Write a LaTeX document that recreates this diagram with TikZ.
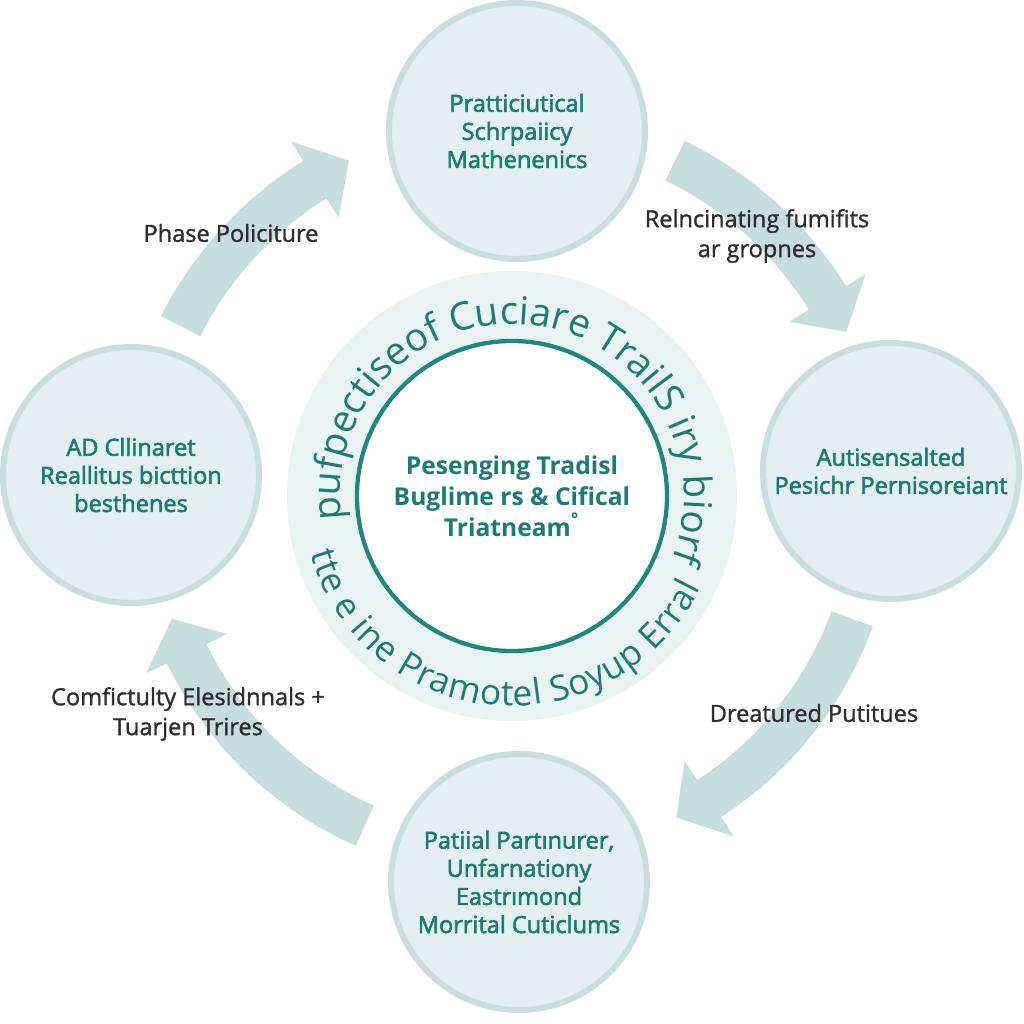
\documentclass[tikz,border=0pt]{standalone}
\usepackage{fontspec}
\setmainfont{Open Sans}
\newfontfamily\medfont{Open Sans}[FakeBold=2.5]
\newfontfamily\lblfont{Open Sans}[FakeBold=1.3]
\usetikzlibrary{positioning,decorations.text}

\definecolor{stagefill}{HTML}{E4F0EF}
\definecolor{stageedge}{HTML}{C9DFDD}
\definecolor{flowfill}{HTML}{C6DEDC}
\definecolor{ringfill}{HTML}{E8F3F2}
\definecolor{hubedge}{HTML}{1C8878}
\definecolor{tealtext}{HTML}{1D7C70}
\definecolor{labeltext}{HTML}{2E2E2E}

\begin{document}
\begin{tikzpicture}[
    stage/.style={circle,draw=stageedge,line width=1.7pt,fill=stagefill,minimum size=2.56cm,inner sep=0pt,
                  text=tealtext,align=center,font=\medfont\fontsize{6.7}{8}\selectfont},
    ringdisk/.style={circle,fill=ringfill,minimum size=4.5cm,inner sep=0pt},
    hub/.style={circle,draw=hubedge,line width=1.2pt,fill=white,minimum size=3.1cm,inner sep=0pt,
                text=tealtext,align=center,font=\bfseries\fontsize{7}{8.8}\selectfont},
    steplabel/.style={text=labeltext,align=center,font=\lblfont\fontsize{6.7}{8.5}\selectfont},
    flow/.style={fill=flowfill}]
  \useasboundingbox[fill=white] (0,0) rectangle (10.24,10.24);

  % curved block arrows round the middle
  \foreach \a/\b/\c/\r in {153/122/116/3.72, 64/32/26/3.72, -20/-57/-63/3.62, 246/206/200/3.62} {
    \pgfmathsetmacro\ro{\r+0.22}
    \pgfmathsetmacro\ri{\r-0.22}
    \pgfmathsetmacro\ho{\r+0.45}
    \pgfmathsetmacro\hi{\r-0.45}
    \fill[flow,shift={(5.12,5.29)}] (\a:\ro) arc[start angle=\a,end angle=\b,radius=\ro]
      -- (\b:\ho) -- (\c:\r) -- (\b:\hi) -- (\b:\ri)
      arc[start angle=\b,end angle=\a,radius=\ri] -- cycle;
  }

  \node[ringdisk] (ring) at (5.12,5.28) {};
  \node[hub] (hub) at (ring.center) {Pesenging Tradisl\\Buglime rs \& Cifical\\Triatneam\textsuperscript{°}};

  % lettering round the ring
  \path[decorate,decoration={text along path,text color=tealtext,text align={fit to path},
      text={|\fontsize{11}{11}\selectfont|pufpectiseof Cuciare TrailS iry biorf}}]
    (ring.center) ++(188:1.72) arc[start angle=188,end angle=-20,radius=1.72];
  \path[decorate,decoration={text along path,text color=tealtext,text align={fit to path},
      text={|\fontsize{10}{10}\selectfont|tte e ine Pramotel Soyup Erral}}]
    (ring.center) ++(196:2.10) arc[start angle=196,end angle=334,radius=2.10];

  \node[stage] (top) at (5.17,8.93) {Pratticiutical\\Schrpaiicy\\Mathenenics};
  \node[stage] (left) at (1.31,5.49) {AD Cllinaret\\Reallitus bicttion\\besthenes};
  \node[stage] (right) at (8.91,5.53) {Autisensalted\\Pesichr Pernisoreiant};
  \node[stage] (bottom) at (5.19,1.42) {Patiial Partınurer,\\Unfarnationy\\Eastrımond\\Morrital Cuticlums};

  \node[steplabel] (phase) at (2.31,7.91) {Phase Policiture};
  \node[steplabel] (reinc) at (7.57,7.88) {Relncinating fumifits\\ar gropnes};
  \node[steplabel] (comf) at (1.88,3.10) {Comfictulty Elesidnnals +\\Tuarjen Trires};
  \node[steplabel] (dreat) at (8.14,3.11) {Dreatured Putitues};
\end{tikzpicture}
\end{document}
